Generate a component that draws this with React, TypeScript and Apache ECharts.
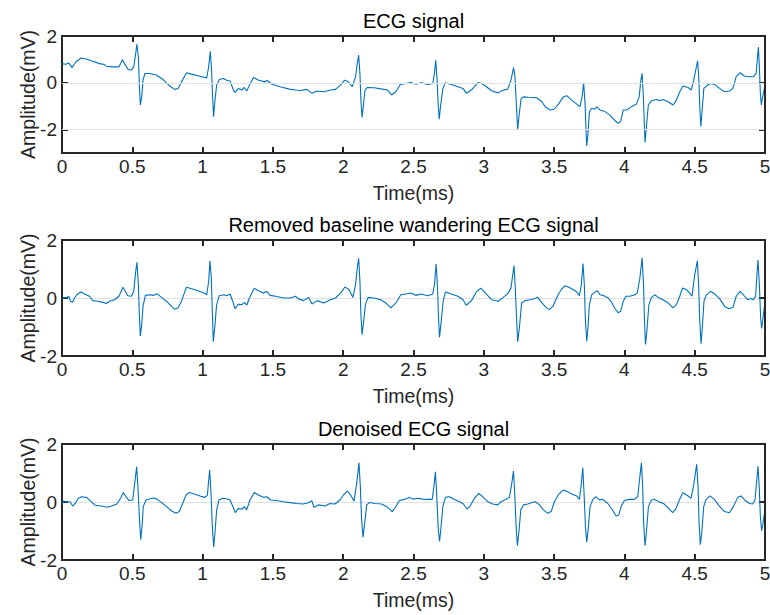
import React, { useEffect, useRef } from "react";
import * as echarts from "echarts";

// ---- data (time in ms, amplitude in mV) ----
const titles = ["ECG signal", "Removed baseline wandering ECG signal", "Denoised ECG signal"];
const xTicks = [0, 0.5, 1, 1.5, 2, 2.5, 3, 3.5, 4, 4.5, 5];
const yTicks1 = [-2, 0, 2];
const yTicks23 = [-2, 0, 2];
const yRange1 = [-3, 2];
const yRange23 = [-2, 2];

const rawEcg: number[][] = [
  [0,0.82],[0.029,0.79],[0.048,0.85],[0.071,0.65],[0.1,0.9],[0.136,1.06],[0.171,1.02],[0.219,0.92],[0.267,0.82],[0.302,0.78],[0.314,0.71],[0.362,0.68],[0.405,0.68],[0.417,0.82],[0.429,0.99],[0.445,0.82],[0.469,0.58],[0.493,0.54],[0.51,0.68],[0.524,1.25],[0.533,1.65],[0.543,1.1],[0.55,-0.03],[0.557,-0.95],[0.567,-0.6],[0.576,0.11],[0.59,0.4],[0.624,0.4],[0.671,0.33],[0.719,0.14],[0.767,-0.14],[0.802,-0.28],[0.826,-0.24],[0.85,0.04],[0.886,0.43],[0.921,0.37],[0.981,0.28],[1.029,0.21],[1.043,0.68],[1.055,1.35],[1.064,0.54],[1.071,-0.6],[1.078,-1.45],[1.088,-0.74],[1.1,-0.1],[1.119,0.14],[1.148,0.18],[1.171,0.11],[1.195,0.08],[1.219,-0.31],[1.231,-0.41],[1.255,-0.24],[1.279,-0.31],[1.295,-0.2],[1.314,-0.35],[1.333,-0.1],[1.362,0.23],[1.398,0.11],[1.445,0.04],[1.457,0.11],[1.493,-0.06],[1.552,-0.17],[1.624,-0.28],[1.66,-0.31],[1.695,-0.33],[1.742,-0.28],[1.778,-0.45],[1.814,-0.35],[1.862,-0.38],[1.909,-0.31],[1.945,-0.28],[1.981,-0.1],[2.01,0.11],[2.036,0.04],[2.064,-0.17],[2.088,0.26],[2.1,0.82],[2.11,1.18],[2.119,0.4],[2.126,-0.74],[2.134,-1.48],[2.143,-1.02],[2.155,-0.31],[2.172,-0.2],[2.22,-0.21],[2.267,-0.26],[2.315,-0.31],[2.344,-0.52],[2.375,-0.38],[2.406,-0.07],[2.446,-0.03],[2.482,0.01],[2.518,-0.06],[2.554,0],[2.601,-0.07],[2.637,-0.03],[2.649,0.4],[2.658,0.96],[2.668,0.11],[2.675,-0.88],[2.683,-1.56],[2.692,-1.02],[2.709,-0.24],[2.726,0],[2.768,-0.07],[2.816,-0.17],[2.852,-0.24],[2.876,-0.45],[2.912,-0.31],[2.959,0.01],[2.983,-0.03],[3.019,-0.17],[3.055,-0.34],[3.103,-0.43],[3.138,-0.31],[3.169,-0.28],[3.193,0.11],[3.212,0.65],[3.222,0.26],[3.231,-0.88],[3.241,-1.99],[3.25,-1.45],[3.265,-0.67],[3.282,-0.6],[3.317,-0.62],[3.377,-0.64],[3.413,-0.81],[3.436,-1.02],[3.472,-1.16],[3.5,-1.13],[3.531,-0.91],[3.566,-0.6],[3.59,-0.55],[3.625,-0.74],[3.661,-0.91],[3.684,-1.02],[3.699,-0.6],[3.71,0],[3.72,-0.88],[3.727,-2.01],[3.732,-2.7],[3.741,-2.16],[3.751,-1.23],[3.767,-1.09],[3.79,-1.13],[3.803,-1.02],[3.826,-1.16],[3.862,-1.23],[3.897,-1.38],[3.933,-1.62],[3.957,-1.73],[3.973,-1.66],[3.992,-1.16],[4.017,-1.16],[4.05,-1.02],[4.086,-0.91],[4.105,-0.6],[4.117,0.11],[4.126,0.4],[4.135,-0.6],[4.143,-2.01],[4.147,-2.55],[4.157,-1.87],[4.17,-0.95],[4.193,-0.77],[4.228,-0.71],[4.252,-0.77],[4.275,-0.71],[4.311,-0.81],[4.346,-0.95],[4.37,-0.74],[4.394,-0.38],[4.417,-0.14],[4.453,-0.2],[4.476,-0.31],[4.493,0.11],[4.512,0.68],[4.521,0.94],[4.53,0.11],[4.537,-1.16],[4.544,-1.87],[4.553,-1.16],[4.565,-0.24],[4.583,-0.14],[4.61,-0.03],[4.641,-0.07],[4.677,-0.24],[4.712,-0.38],[4.748,-0.35],[4.772,-0.24],[4.795,0.26],[4.823,0.43],[4.855,0.28],[4.89,0.26],[4.918,0.26],[4.937,0.4],[4.947,1.11],[4.953,1.53],[4.96,0.68],[4.967,-0.45],[4.974,-0.95],[4.983,-0.6],[5,-0.1]
];

const baselineRemoved: number[][] = [
  [0,-0.02],[0.017,0.02],[0.033,0],[0.048,0.06],[0.06,-0.11],[0.076,-0.15],[0.088,0],[0.112,0.14],[0.136,0.21],[0.16,0.14],[0.195,0.06],[0.219,-0.09],[0.255,-0.11],[0.29,-0.15],[0.314,-0.19],[0.338,-0.11],[0.374,-0.06],[0.405,0.06],[0.421,0.23],[0.433,0.37],[0.45,0.23],[0.469,0.08],[0.493,0.06],[0.51,0.23],[0.524,0.91],[0.533,1.23],[0.543,0.46],[0.55,-0.57],[0.557,-1.31],[0.567,-0.91],[0.576,-0.29],[0.593,0.09],[0.624,0.11],[0.648,0.09],[0.676,0.15],[0.707,0.02],[0.743,-0.11],[0.779,-0.29],[0.802,-0.39],[0.826,-0.34],[0.85,-0.11],[0.874,0.23],[0.886,0.37],[0.921,0.32],[0.969,0.25],[1.01,0.17],[1.029,0.11],[1.043,0.57],[1.052,1.28],[1.062,0.69],[1.069,-0.46],[1.076,-1.51],[1.086,-1.03],[1.1,-0.23],[1.119,0.08],[1.148,0.11],[1.171,0.08],[1.195,0.14],[1.214,-0.11],[1.231,-0.37],[1.255,-0.21],[1.279,-0.23],[1.298,-0.15],[1.314,-0.25],[1.333,0],[1.367,0.34],[1.398,0.25],[1.433,0.17],[1.457,0.23],[1.48,0.09],[1.529,0.05],[1.576,0],[1.624,0],[1.66,0.06],[1.683,-0.03],[1.718,-0.09],[1.754,0.02],[1.778,-0.21],[1.814,-0.09],[1.862,-0.17],[1.909,-0.06],[1.945,0],[1.981,0.17],[2.012,0.38],[2.041,0.29],[2.069,0.02],[2.088,0.46],[2.1,1.03],[2.11,1.37],[2.119,0.57],[2.126,-0.57],[2.134,-1.26],[2.143,-0.91],[2.158,-0.23],[2.177,0.02],[2.22,0],[2.267,-0.06],[2.303,-0.17],[2.339,-0.34],[2.375,-0.17],[2.41,0.11],[2.446,0.14],[2.482,0.17],[2.518,0.09],[2.554,0.14],[2.601,0.08],[2.637,0.14],[2.649,0.46],[2.661,1.17],[2.671,0.34],[2.678,-0.69],[2.685,-1.35],[2.695,-0.91],[2.711,-0.11],[2.728,0.21],[2.768,0.14],[2.816,0.06],[2.852,-0.06],[2.876,-0.25],[2.912,-0.09],[2.947,0.21],[2.979,0.34],[3.012,0.17],[3.055,-0.06],[3.103,-0.11],[3.138,0.02],[3.169,0.14],[3.193,0.34],[3.215,1.12],[3.224,0.34],[3.234,-0.8],[3.241,-1.51],[3.253,-1.03],[3.269,-0.17],[3.293,-0.09],[3.329,-0.06],[3.365,-0.02],[3.382,0.03],[3.401,-0.09],[3.424,-0.23],[3.448,-0.34],[3.467,-0.4],[3.491,-0.29],[3.507,-0.11],[3.531,0.14],[3.554,0.31],[3.578,0.42],[3.602,0.38],[3.625,0.32],[3.656,0.23],[3.68,0.08],[3.694,0.46],[3.706,1.19],[3.715,0.46],[3.722,-0.69],[3.732,-1.49],[3.741,-1.03],[3.751,-0.23],[3.767,0.11],[3.791,0.21],[3.81,0.25],[3.826,0.11],[3.85,0.09],[3.885,0],[3.909,-0.15],[3.933,-0.37],[3.956,-0.51],[3.973,-0.46],[3.992,-0.11],[4.011,0.06],[4.039,0.06],[4.074,0.11],[4.091,0.17],[4.11,0.69],[4.126,1.39],[4.136,0.46],[4.143,-0.8],[4.15,-1.6],[4.16,-1.14],[4.174,-0.23],[4.193,0.02],[4.216,0.11],[4.24,0.02],[4.275,-0.06],[4.311,-0.17],[4.346,-0.34],[4.37,-0.23],[4.394,0.06],[4.413,0.34],[4.441,0.29],[4.465,0.17],[4.481,0.06],[4.5,0.8],[4.519,1.28],[4.528,0.46],[4.535,-0.69],[4.545,-1.58],[4.554,-1.03],[4.566,-0.11],[4.583,0.11],[4.613,0.23],[4.642,0.14],[4.677,-0.02],[4.713,-0.29],[4.743,-0.37],[4.772,-0.32],[4.795,0.06],[4.824,0.23],[4.855,0.06],[4.878,-0.06],[4.902,-0.02],[4.918,-0.06],[4.933,0.06],[4.944,0.91],[4.95,1.31],[4.96,0.46],[4.969,-0.69],[4.976,-1.05],[4.986,-0.69],[5,-0.15]
];

const denoised: number[][] = [
  [0,-0.05],[0.01,0.03],[0.033,0.01],[0.057,0.01],[0.076,-0.14],[0.093,-0.05],[0.116,0.13],[0.14,0.18],[0.176,0.15],[0.204,0.03],[0.235,-0.11],[0.282,-0.14],[0.322,-0.18],[0.353,-0.14],[0.389,-0.07],[0.417,0.13],[0.436,0.33],[0.455,0.18],[0.479,0.05],[0.503,0.07],[0.517,0.64],[0.531,1.21],[0.54,0.53],[0.55,-0.5],[0.56,-1.3],[0.569,-0.85],[0.578,-0.16],[0.597,0.07],[0.626,0.11],[0.65,0.14],[0.678,0.09],[0.709,-0.02],[0.744,-0.16],[0.78,-0.31],[0.811,-0.39],[0.834,-0.33],[0.858,-0.05],[0.882,0.24],[0.906,0.33],[0.946,0.27],[0.981,0.21],[1.017,0.16],[1.034,0.24],[1.05,1.1],[1.06,0.3],[1.069,-0.85],[1.079,-1.55],[1.088,-1.07],[1.1,-0.27],[1.117,0.07],[1.143,0.13],[1.171,0.11],[1.195,0.07],[1.214,-0.14],[1.233,-0.37],[1.254,-0.22],[1.278,-0.25],[1.297,-0.16],[1.313,-0.27],[1.337,0.07],[1.368,0.33],[1.396,0.24],[1.432,0.16],[1.456,0.18],[1.484,0.07],[1.527,0.05],[1.574,0.01],[1.622,-0.02],[1.669,-0.05],[1.716,-0.07],[1.759,-0.02],[1.776,0.05],[1.792,-0.18],[1.823,-0.1],[1.87,-0.14],[1.906,-0.05],[1.941,-0.07],[1.977,0.07],[2.001,0.24],[2.03,0.38],[2.053,0.24],[2.077,0.03],[2.096,0.64],[2.112,1.35],[2.122,0.53],[2.131,-0.62],[2.141,-1.21],[2.153,-0.73],[2.167,-0.1],[2.186,-0.02],[2.226,-0.05],[2.273,-0.07],[2.309,-0.16],[2.325,-0.22],[2.348,-0.33],[2.372,-0.18],[2.4,0.05],[2.436,0.09],[2.472,0.16],[2.495,0.1],[2.531,0.13],[2.566,0.1],[2.602,0.09],[2.633,0.09],[2.645,0.53],[2.656,1.04],[2.666,0.18],[2.675,-0.85],[2.685,-1.36],[2.694,-0.96],[2.709,-0.16],[2.727,0.16],[2.756,0.18],[2.791,0.09],[2.827,0.01],[2.855,-0.07],[2.879,-0.24],[2.903,-0.14],[2.934,0.13],[2.964,0.3],[2.993,0.18],[3.028,0.01],[3.064,-0.07],[3.1,-0.1],[3.123,0.01],[3.154,0.09],[3.182,0.16],[3.199,0.64],[3.211,1.07],[3.22,0.3],[3.23,-0.85],[3.239,-1.51],[3.249,-1.07],[3.263,-0.27],[3.282,-0.1],[3.313,-0.07],[3.344,-0.02],[3.367,0.01],[3.396,-0.1],[3.424,-0.27],[3.455,-0.39],[3.479,-0.33],[3.502,0.01],[3.533,0.27],[3.566,0.41],[3.597,0.35],[3.628,0.27],[3.661,0.21],[3.68,0.09],[3.694,0.64],[3.704,1.18],[3.713,0.3],[3.723,-0.85],[3.732,-1.39],[3.742,-0.96],[3.756,-0.16],[3.775,0.09],[3.799,0.18],[3.822,0.07],[3.846,0.09],[3.882,-0.05],[3.912,-0.25],[3.941,-0.48],[3.96,-0.45],[3.976,-0.16],[4,0.05],[4.036,0.09],[4.071,0.09],[4.095,0.18],[4.107,0.75],[4.121,1.35],[4.13,0.53],[4.137,-0.73],[4.147,-1.51],[4.156,-1.07],[4.171,-0.16],[4.19,0.05],[4.213,0.1],[4.244,0.01],[4.284,-0.07],[4.315,-0.22],[4.344,-0.37],[4.367,-0.22],[4.391,0.07],[4.415,0.32],[4.443,0.24],[4.474,0.13],[4.491,0.53],[4.514,1.3],[4.524,0.53],[4.531,-0.73],[4.54,-1.47],[4.55,-1.07],[4.564,-0.16],[4.581,0.09],[4.609,0.21],[4.64,0.09],[4.675,-0.14],[4.711,-0.33],[4.747,-0.37],[4.775,-0.16],[4.806,0.16],[4.83,0.21],[4.86,0.05],[4.889,-0.05],[4.912,-0.07],[4.929,0.07],[4.941,0.75],[4.95,1.23],[4.96,0.41],[4.967,-0.5],[4.976,-0.99],[4.986,-0.73],[5,-0.27]
];

const FONT = "'Liberation Sans', Arial, Helvetica, sans-serif";
const INK = "#262626";
const LINE = "#0072BD";
const GRIDC = "#e0e0e0";
const TICK_LEN = 6;
const AXW = 2;

export default function App() {
  const ref = useRef<HTMLDivElement>(null);

  useEffect(() => {
    if (!ref.current) return;
    const chart = echarts.init(ref.current, null, { renderer: "svg" });

    const tops = [36, 240, 444];
    const heights = [117, 116, 116];
    const titleY = [21, 225, 428.5];
    const signals = [rawEcg, baselineRemoved, denoised];
    const yRanges = [yRange1, yRange23, yRange23];
    const yTickSets = [yTicks1, yTicks23, yTicks23];
    const xMin = xTicks[0];
    const xMax = xTicks[xTicks.length - 1];

    const grids = tops.map((t, i) => ({
      left: 62, top: t, width: 703, height: heights[i],
      containLabel: false, outerBoundsMode: "none",
      show: true, borderColor: INK, borderWidth: AXW,
    }));

    const mkLine = () => ({ show: true, onZero: false, lineStyle: { color: INK, width: AXW } });
    const mkTick = (custom?: number[]) => {
      const t: any = { show: true, inside: true, length: TICK_LEN, lineStyle: { color: INK, width: AXW } };
      if (custom) t.customValues = custom;
      return t;
    };

    const xAxes: any[] = [];
    const yAxes: any[] = [];
    tops.forEach((_, g) => {
      // bottom (index 2g) and top (index 2g+1)
      xAxes.push({
        type: "value", gridIndex: g, position: "bottom", min: xMin, max: xMax, interval: 0.5,
        axisLine: mkLine(), axisTick: mkTick(), splitLine: { show: false },
        axisLabel: { color: INK, fontSize: 19, fontFamily: FONT, margin: 4 },
        name: "Time(ms)", nameLocation: "middle", nameGap: 30, nameMoveOverlap: false,
        nameTextStyle: { color: INK, fontSize: 19.5, fontFamily: FONT },
      });
      xAxes.push({
        type: "value", gridIndex: g, position: "top", min: xMin, max: xMax, interval: 0.5,
        axisLine: mkLine(), axisTick: mkTick(), splitLine: { show: false },
        axisLabel: { show: false },
      });
      const first = g === 0;
      const range = yRanges[g];
      const ticks = yTickSets[g];
      const common: any = first ? { min: range[0], max: range[1] } : { min: range[0], max: range[1], interval: 2 };
      // left (index 2g) and right (index 2g+1)
      yAxes.push({
        type: "value", gridIndex: g, position: "left", ...common,
        axisLine: mkLine(), axisTick: mkTick(first ? ticks : undefined),
        splitLine: first ? { show: false } : { show: true, lineStyle: { color: GRIDC, width: 1 } },
        axisLabel: first
          ? { color: INK, fontSize: 19, fontFamily: FONT, margin: 5, customValues: ticks }
          : { color: INK, fontSize: 19, fontFamily: FONT, margin: 5 },
        name: "Amplitude(mV)", nameLocation: "middle", nameGap: 24, nameMoveOverlap: false,
        nameTextStyle: { color: INK, fontSize: 19.5, fontFamily: FONT },
      });
      yAxes.push({
        type: "value", gridIndex: g, position: "right", ...common,
        axisLine: mkLine(), axisTick: mkTick(first ? ticks : undefined),
        splitLine: { show: false }, axisLabel: { show: false },
      });
    });

    const series: any[] = [];
    tops.forEach((_, g) => {
      const [yMin, yMax] = yRanges[g];
      // top and right edges of the frame, drawn through the panel's own scales
      series.push({
        type: "line", xAxisIndex: 2 * g + 1, yAxisIndex: 2 * g + 1, clip: false, silent: true, z: 5,
        data: [[xMin, yMax], [xMax, yMax], [xMax, yMin]], showSymbol: false, symbol: "none",
        lineStyle: { color: INK, width: AXW },
        markLine: g === 0 ? {
          silent: true, symbol: "none", label: { show: false },
          lineStyle: { color: GRIDC, width: 1, type: "solid" },
          data: yTicks1.filter((v) => v > yMin && v < yMax).map((v) => ({ yAxis: v })),
        } : undefined,
      });
    });
    signals.forEach((d, g) => {
      series.push({
        type: "line", xAxisIndex: 2 * g, yAxisIndex: 2 * g, data: d, showSymbol: false, symbol: "none",
        lineStyle: { color: LINE, width: 1.1 }, z: 3, silent: true,
      });
    });

    chart.setOption({
      animation: false,
      backgroundColor: "#ffffff",
      grid: grids,
      xAxis: xAxes,
      yAxis: yAxes,
      series,
      graphic: titles.map((t, i) => ({
        type: "text", x: 413.5, y: titleY[i], silent: true,
        style: { text: t, fill: "#000000", font: `20px ${FONT}`, textAlign: "center", textVerticalAlign: "middle" },
      })),
    });

    return () => chart.dispose();
  }, []);

  return (
    <div ref={ref} style={{ position: "absolute", left: 0, top: 0, width: 770, height: 615, background: "#fff" }} />
  );
}
